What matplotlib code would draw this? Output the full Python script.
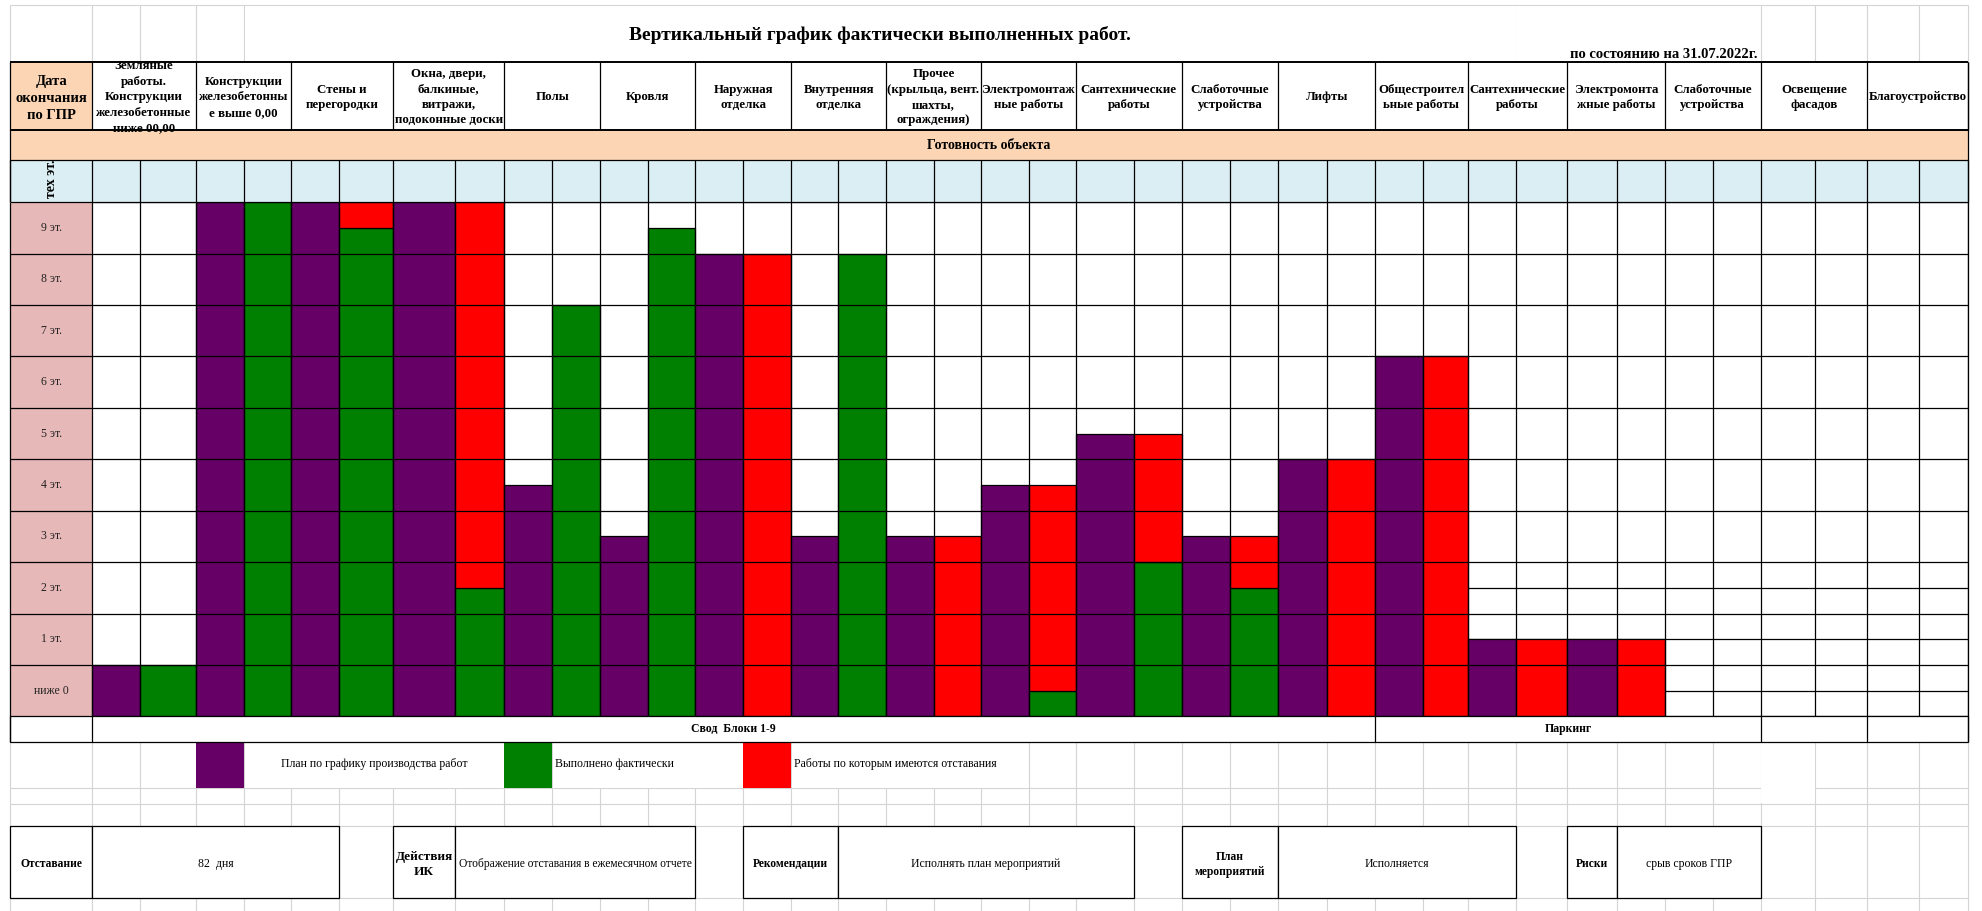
# -*- coding: UTF-8 -*-

import matplotlib
matplotlib.use('Agg')
import matplotlib.pyplot as plt
from matplotlib.patches import Rectangle

plt.rcParams['font.family'] = ['Liberation Serif', 'DejaVu Serif']

# виды работ (шапка таблицы)
works = [
    "Земляные\nработы.\nКонструкции\nжелезобетонные\nниже 00,00",
    "Конструкции\nжелезобетонны\nе выше 0,00",
    "Стены и\nперегородки",
    "Окна, двери,\nбалкиные,\nвитражи,\nподоконные доски",
    "Полы",
    "Кровля",
    "Наружная\nотделка",
    "Внутренняя\nотделка",
    "Прочее\n(крыльца, вент.\nшахты,\nограждения)",
    "Электромонтаж\nные работы",
    "Сантехнические\nработы",
    "Слаботочные\nустройства",
    "Лифты",
    "Общестроител\nьные работы",
    "Сантехнические\nработы",
    "Электромонта\nжные работы",
    "Слаботочные\nустройства",
    "Освещение\nфасадов",
    "Благоустройство",
]

# уровни в этажах: 0 - низ "ниже 0", 10 - верх "9 эт."
plan_top = [1, 10, 10, 10, 4.5, 3.5, 9, 3.5, 3.5, 4.5, 5.5, 3.5, 5, 7, 1.5, 1.5, 0, 0, 0]
done_top = [1, 10, 9.5, 2.5, 8, 9.5, 0, 9, 0, 0.5, 3, 2.5, 0, 0, 0, 0, 0, 0, 0]
lag_size = [0, 0, 0.5, 7.5, 0, 0, 9, 0, 3.5, 4, 2.5, 1, 5, 7, 1.5, 1.5, 0, 0, 0]

floors = ["ниже 0", "1 эт.", "2 эт.", "3 эт.", "4 эт.", "5 эт.", "6 эт.", "7 эт.", "8 эт.", "9 эт."]

legend_items = ["План по графику производства работ", "Выполнено фактически",
                "Работы по которым имеются отставания"]

# нижние блоки: начало, конец, текст, жирный, размер
boxes = [
    (8, 73, "Отставание", True, 8.3),
    (73, 268, "82  дня", False, 8.5),
    (311, 360, "Действия\nИК", True, 9.5),
    (360, 550, "Отображение отставания в ежемесячном отчете", False, 8.3),
    (588, 663, "Рекомендации", True, 8.3),
    (663, 897, "Исполнять план мероприятий", False, 8.5),
    (935, 1011, "План\nмероприятий", True, 8.3),
    (1011, 1199, "Исполняется", False, 8.5),
    (1240, 1279, "Риски", True, 8.3),
    (1279, 1393, "срыв сроков ГПР", False, 8.5),
]

# цвета
PURPLE = '#660066'
GREEN = '#008000'
RED = '#ff0000'
PEACH = '#fcd5b4'
BLUE = '#daeef3'
PINK = '#e6b8b7'
GRAY = '#d4d4d4'

# раскладка листа (координаты листа 1568 x 721)
col_edges = [8, 73, 111, 155, 193, 230, 268, 311, 360, 399, 437, 475, 513, 550, 588, 626,
             663, 701, 739, 776, 814, 851, 897, 935, 973, 1011, 1050, 1088, 1126, 1161, 1199,
             1240, 1279, 1317, 1355, 1393, 1436, 1477, 1518, 1557]
W, H = 1568, 721
LEFT, RIGHT = 8, 1557
Y_TOP, Y_HEAD, Y_READY, Y_BLUE, Y_FL, Y_SVOD, Y_LEG = 4, 49, 103, 127, 160, 567, 587
LW = 0.9


def cell(ax, x0, y0, x1, y1, fc='white', ec='none', z=1, lw=LW):
    ax.add_patch(Rectangle((x0, y0), x1 - x0, y1 - y0, facecolor=fc, edgecolor=ec,
                           linewidth=lw, zorder=z))


def draw_chart():
    fig = plt.figure(figsize=(19.82, 9.11), dpi=100)
    ax = fig.add_axes([0, 0, 1, 1])
    ax.set_xlim(0, W)
    ax.set_ylim(H, 0)
    ax.axis('off')

    # серая сетка листа
    ax.vlines(col_edges, Y_TOP, H, color=GRAY, lw=0.8, zorder=0)
    ax.hlines([Y_TOP, Y_HEAD, 624, 636, 654, 711], LEFT, RIGHT, color=GRAY, lw=0.8, zorder=0)
    # объединенные ячейки
    for x0, y0, x1, y1 in [(193.5, 4.5, 1198.5, 48.5), (1199.5, 4.5, 1391.5, 48.5),
                           (193.5, 588, 398.5, 623.5), (437.5, 588, 587.5, 623.5),
                           (626.5, 588, 813.5, 623.5), (1393.5, 588, 1435.5, 635.5)]:
        cell(ax, x0, y0, x1, y1, z=0.3)

    ax.text(696, 28, "Вертикальный график фактически выполненных работ.", fontsize=14,
            fontweight='bold', ha='center', va='center')
    ax.text(1390, 43, "по состоянию на 31.07.2022г.", fontsize=10.5, fontweight='bold',
            ha='right', va='center')

    # фон таблицы
    cell(ax, LEFT, Y_HEAD, RIGHT, Y_LEG, z=0.5)

    # шапка
    cell(ax, LEFT, Y_HEAD, col_edges[1], Y_READY, fc=PEACH, z=1)
    ax.text((LEFT + col_edges[1]) / 2, 78, "Дата\nокончания\nпо ГПР", fontsize=10.5,
            fontweight='bold', ha='center', va='center', linespacing=1.4, zorder=5)
    for i, name in enumerate(works):
        x0, x1 = col_edges[1 + 2 * i], col_edges[3 + 2 * i]
        t = ax.text((x0 + x1) / 2, 77, name, fontsize=9.3, fontweight='bold', ha='center',
                    va='center', linespacing=1.38, zorder=5)
        clip = Rectangle((x0, Y_HEAD), x1 - x0, Y_READY - Y_HEAD, transform=ax.transData)
        t.set_clip_path(clip)
    ax.vlines(col_edges[1::2], Y_HEAD, Y_READY, color='black', lw=LW, zorder=4)

    # готовность объекта
    cell(ax, LEFT, Y_READY, RIGHT, Y_BLUE, fc=PEACH, z=1)
    ax.text((LEFT + RIGHT) / 2, 115, "Готовность объекта", fontsize=10, fontweight='bold',
            ha='center', va='center', zorder=5)

    # голубая строка
    cell(ax, LEFT, Y_BLUE, RIGHT, Y_FL, fc=BLUE, z=1)
    ax.vlines(col_edges, Y_BLUE, Y_FL, color='black', lw=LW, zorder=4)
    t = ax.text(41, 157, "тех эт.", fontsize=10, fontweight='bold', rotation=90,
                ha='center', va='bottom', zorder=5)
    t.set_clip_path(Rectangle((LEFT, Y_BLUE), col_edges[1] - LEFT, Y_FL - Y_BLUE,
                              transform=ax.transData))

    # строка свода
    ax.vlines([LEFT, col_edges[1], 1088, 1393, 1477, RIGHT], Y_SVOD, Y_LEG, color='black',
              lw=LW, zorder=4)
    ax.text((col_edges[1] + 1088) / 2, 577, "Свод  Блоки 1-9", fontsize=8.5,
            fontweight='bold', ha='center', va='center', zorder=5)
    ax.text((1088 + 1393) / 2, 577, "Паркинг", fontsize=8.5, fontweight='bold',
            ha='center', va='center', zorder=5)

    ax.hlines([Y_HEAD, Y_READY], LEFT, RIGHT, color='black', lw=1.4, zorder=4)
    ax.hlines([Y_BLUE, Y_FL, Y_SVOD, Y_LEG], LEFT, RIGHT, color='black', lw=LW, zorder=4)
    ax.vlines([LEFT, RIGHT], Y_HEAD, Y_LEG, color='black', lw=LW, zorder=4)

    # легенда
    colors = [PURPLE, GREEN, RED]
    sw = [(155, 193), (399, 437), (588, 626)]
    for (x0, x1), c, label in zip(sw, colors, legend_items):
        cell(ax, x0, Y_LEG, x1, 624, fc=c, z=1)
    ax.text(296, 605, legend_items[0], fontsize=8.5, ha='center', va='center')
    ax.text(439, 605, legend_items[1], fontsize=8.5, ha='left', va='center')
    ax.text(628, 605, legend_items[2], fontsize=8.5, ha='left', va='center')

    # нижние блоки
    for x0, x1, txt, bold, fs in boxes:
        cell(ax, x0, 654, x1, 711, fc='white', ec='black', z=2)
        ax.text((x0 + x1) / 2, 684, txt, fontsize=fs, fontweight='bold' if bold else 'normal',
                ha='center', va='center', linespacing=1.3, zorder=5)

    # график по этажам
    bx = fig.add_axes([LEFT / W, (H - Y_SVOD) / H, (RIGHT - LEFT) / W, (Y_SVOD - Y_FL) / H])
    bx.set_xlim(LEFT, RIGHT)
    bx.set_ylim(0, len(floors))
    bx.axis('off')
    bx.patch.set_alpha(0)

    bx.bar(LEFT, len(floors), width=col_edges[1] - LEFT, bottom=0, align='edge',
           color=PINK, zorder=1)
    for f, name in enumerate(floors):
        bx.text((LEFT + col_edges[1]) / 2, f + 0.5, name, fontsize=8.5, color='#222222',
                ha='center', va='center', zorder=5)

    # полуэтажные строки паркинга
    bx.hlines([0.5, 1.5, 2.5], 1161, RIGHT, color='black', lw=LW, zorder=1)

    for i in range(len(works)):
        xp, xf, xe = col_edges[1 + 2 * i], col_edges[2 + 2 * i], col_edges[3 + 2 * i]
        if plan_top[i] > 0:
            bx.bar(xp, plan_top[i], width=xf - xp, bottom=0, align='edge', color=PURPLE,
                   edgecolor='black', linewidth=LW, zorder=2)
        if done_top[i] > 0:
            bx.bar(xf, done_top[i], width=xe - xf, bottom=0, align='edge', color=GREEN,
                   edgecolor='black', linewidth=LW, zorder=2)
        if lag_size[i] > 0:
            bx.bar(xf, lag_size[i], width=xe - xf, bottom=done_top[i], align='edge',
                   color=RED, edgecolor='black', linewidth=LW, zorder=2)

    bx.hlines(range(len(floors) + 1), LEFT, RIGHT, color='black', lw=LW, zorder=3)
    bx.vlines(col_edges, 0, len(floors), color='black', lw=LW, zorder=3)

    fig.savefig('out.png', dpi=100)


if __name__ == '__main__':
    draw_chart()
